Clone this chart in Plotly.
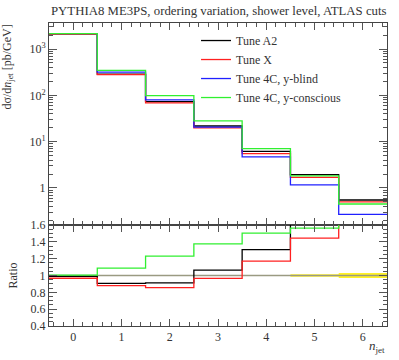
import plotly.graph_objects as go
import numpy as np

# ---- data ----
n_jet = [0, 1, 2, 3, 4, 5, 6]
tune_a2 = [2130, 288, 73.0, 21.8, 6.15, 1.94, 0.55]
tune_x = [2080, 280, 68.5, 19.8, 5.50, 1.69, 0.50]
tune_4c_blind = [2150, 318, 80.0, 20.5, 4.70, 1.17, 0.27]
tune_4c_consc = [2160, 346, 98.4, 28.2, 7.07, 1.83, 0.45]
ref_rel_err = [0.003, 0.003, 0.004, 0.005, 0.006, 0.014, 0.03]

series = [
    ("Tune A2", tune_a2, "#000000"),
    ("Tune X", tune_x, "#ff2020"),
    ("Tune 4C, y-blind", tune_4c_blind, "#2020ff"),
    ("Tune 4C, y-conscious", tune_4c_consc, "#30f030"),
]
ref = tune_4c_blind

edges = [c - 0.5 for c in n_jet] + [n_jet[-1] + 0.5]

def step(v):
    return list(v) + [v[-1]]

FONT = "Liberation Serif"
TXT = "#333333"

fig = go.Figure()

# ratio reference band
up = [1 + e for e in ref_rel_err]
lo = [1 - e for e in ref_rel_err]
fig.add_trace(go.Scatter(x=edges, y=step(lo), mode="lines", line=dict(width=0, shape="hv"),
                         xaxis="x2", yaxis="y2", showlegend=False, hoverinfo="skip"))
fig.add_trace(go.Scatter(x=edges, y=step(up), mode="lines", line=dict(width=0, shape="hv"),
                         fill="tonexty", fillcolor="rgba(255,240,0,0.85)",
                         xaxis="x2", yaxis="y2", showlegend=False, hoverinfo="skip"))
fig.add_trace(go.Scatter(x=edges, y=step([r / r for r in ref]), mode="lines",
                         line=dict(width=1.3, shape="hv", color="#9a9a82"),
                         xaxis="x2", yaxis="y2", showlegend=False))

for name, vals, col in series:
    fig.add_trace(go.Scatter(x=edges, y=step(vals), mode="lines", name=name,
                             line=dict(width=1.3, shape="hv", color=col),
                             xaxis="x", yaxis="y"))
for name, vals, col in series:
    if vals is ref:
        continue
    ratio = [v / r for v, r in zip(vals, ref)]
    fig.add_trace(go.Scatter(x=edges, y=step(ratio), mode="lines", showlegend=False,
                             line=dict(width=1.3, shape="hv", color=col),
                             xaxis="x2", yaxis="y2"))

axis_common = dict(showline=True, linecolor="#444444", linewidth=1, mirror="allticks",
                   ticks="inside", tickcolor="#555555", showgrid=False, zeroline=False,
                   tickfont=dict(family=FONT, size=12, color=TXT))

fig.update_layout(
    width=399, height=360,
    margin=dict(l=49, r=12, t=23, b=34),
    paper_bgcolor="white", plot_bgcolor="white",
    xaxis=dict(domain=[0, 1], anchor="y", range=[-0.5, 6.5], dtick=1, ticklen=7,
               showticklabels=False, matches="x2",
               minor=dict(dtick=0.2, ticks="inside", ticklen=4, tickcolor="#555555"),
               **axis_common),
    yaxis=dict(domain=[0.3333, 1], anchor="x", type="log", range=[-0.80, 3.562],
               tickvals=[1, 10, 100, 1000],
               ticktext=["1", "10<sup>1</sup>", "10<sup>2</sup>", "10<sup>3</sup>"],
               ticklen=8,
               minor=dict(dtick="D1", ticks="inside", ticklen=4, tickcolor="#555555"),
               **axis_common),
    xaxis2=dict(domain=[0, 1], anchor="y2", range=[-0.5, 6.5], dtick=1, ticklen=7,
                minor=dict(dtick=0.2, ticks="inside", ticklen=4, tickcolor="#555555"),
                **axis_common),
    yaxis2=dict(domain=[0, 0.3333], anchor="x2", range=[0.4, 1.6], dtick=0.2, ticklen=8,
                minor=dict(dtick=0.05, ticks="inside", ticklen=4, tickcolor="#555555"),
                **axis_common),
    legend=dict(x=0.435, y=0.99, xanchor="left", yanchor="top", bgcolor="rgba(0,0,0,0)",
                traceorder="normal",
                font=dict(family=FONT, size=12, color=TXT), itemwidth=30, tracegroupgap=0),
    annotations=[
        dict(text="PYTHIA8 ME3PS, ordering variation, shower level, ATLAS cuts",
             xref="paper", yref="paper", x=0, y=1, xanchor="left", yanchor="bottom",
             yshift=3, showarrow=False, font=dict(family=FONT, size=12.8, color=TXT)),
        dict(text="dσ/d<i>n</i><sub>jet</sub> [pb/GeV]", xref="paper", yref="paper",
             x=0, y=1, xanchor="right", yanchor="top", xshift=-32, textangle=-90,
             showarrow=False, font=dict(family=FONT, size=12, color=TXT)),
        dict(text="Ratio", xref="paper", yref="paper", x=0, y=0.1667,
             xanchor="right", yanchor="middle", xshift=-27, textangle=-90,
             showarrow=False, font=dict(family=FONT, size=12, color=TXT)),
        dict(text="<i>n</i><sub>jet</sub>", xref="paper", yref="paper", x=1, y=0,
             xanchor="right", yanchor="middle", yshift=-20, showarrow=False,
             font=dict(family=FONT, size=13, color=TXT)),
    ],
)

fig.write_html("out.html", config={"displayModeBar": False},
               post_script="document.body.style.margin='0';document.body.style.padding='0';")
